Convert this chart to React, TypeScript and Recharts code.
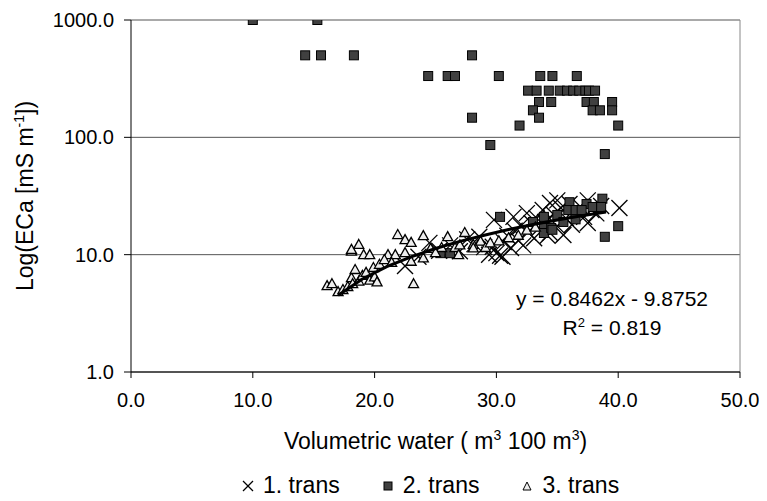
import React from 'react';
import {
  ScatterChart,
  Scatter,
  XAxis,
  YAxis,
  CartesianGrid,
  Legend,
  ReferenceLine,
  Customized,
} from 'recharts';

const FONT = '"Liberation Sans", Arial, sans-serif';
const FS_TICK = 20;
const FS_TITLE = 23;
const FS_EQ = 21;

const xTicks = [0, 10, 20, 30, 40, 50];
const yTicks = [1, 10, 100, 1000];
const seriesNames = ['1. trans', '2. trans', '3. trans'];

// 1. trans (crosses)
const trans1: [number, number][] = [
  [22.5, 8.0], [23.6, 9.6], [24.5, 12.6], [25.3, 10.8], [26.2, 12.0], [27.0, 10.7],
  [27.6, 13.5], [28.2, 12.3], [28.6, 14.2], [29.0, 11.6], [29.4, 10.0], [29.7, 11.7],
  [29.8, 19.8], [30.0, 10.3], [30.3, 9.8], [30.5, 9.6], [30.6, 12.8], [30.9, 14.5],
  [31.2, 11.4], [31.4, 21.0], [31.5, 16.0], [31.8, 13.2], [32.0, 17.5], [32.2, 12.0],
  [32.5, 22.6], [32.6, 15.5], [32.9, 18.5], [33.1, 13.8], [33.3, 20.5], [33.5, 16.8],
  [33.8, 24.0], [34.0, 19.0], [34.2, 14.5], [34.4, 27.6], [34.4, 15.3], [34.7, 22.0],
  [35.0, 29.0], [35.0, 17.5], [35.3, 25.0], [35.5, 14.7], [35.7, 20.5], [36.0, 27.0],
  [36.2, 18.0], [36.5, 23.5], [36.9, 25.6], [37.2, 21.0], [37.5, 18.6], [37.5, 29.0],
  [37.8, 24.0], [38.2, 22.5], [38.6, 26.0], [40.1, 25.0],
];

// 2. trans (squares)
const trans2: [number, number][] = [
  [10.0, 1000], [15.3, 1000], [14.3, 500], [15.6, 500], [18.3, 500], [28.0, 500],
  [24.4, 333], [26.0, 333], [26.6, 333], [30.2, 333], [33.6, 333], [34.6, 333], [36.6, 333],
  [32.6, 250], [33.3, 250], [34.3, 250], [35.2, 250], [35.8, 250], [36.3, 250],
  [36.8, 250], [37.3, 250], [37.6, 250], [38.1, 250],
  [33.5, 200], [34.5, 200], [37.4, 200], [38.0, 200], [39.5, 200],
  [33.0, 170], [37.9, 170], [38.5, 170], [39.5, 170],
  [28.0, 147], [33.5, 147], [31.9, 126], [40.0, 126], [29.5, 86], [38.9, 72],
  [30.3, 21], [33.9, 21], [35.0, 21.8], [36.0, 28], [37.4, 27], [38.7, 30],
  [35.9, 24], [36.5, 24], [37.0, 24], [37.9, 25.5], [38.6, 25.5], [33.9, 16.9],
  [33.9, 15.3], [34.5, 16.9], [36.5, 20], [40.0, 17.5], [38.9, 14.2], [34.6, 16.3],
  [25.4, 10.3], [26.2, 10.3], [33.0, 19], [35.5, 19],
];

// 3. trans (triangles)
const trans3: [number, number][] = [
  [16.1, 5.4], [16.5, 5.6], [17.0, 4.8], [17.4, 5.0], [17.8, 5.3], [18.1, 6.3],
  [18.4, 7.4], [18.2, 5.6], [18.7, 5.9], [19.0, 6.6], [19.3, 7.0], [19.6, 6.0],
  [19.9, 7.7], [20.0, 6.4], [20.2, 5.8], [20.4, 8.2], [18.1, 10.6], [18.1, 11.0],
  [18.7, 12.1], [19.1, 9.9], [19.6, 9.9], [21.1, 9.9], [21.7, 9.9], [21.9, 14.7],
  [22.5, 13.3], [23.0, 12.6], [24.0, 14.4], [22.5, 10.3], [23.0, 8.7], [24.0, 9.3],
  [23.2, 5.6], [26.0, 14.1], [27.4, 15.3], [25.5, 11.4], [26.6, 11.4], [26.9, 9.9],
  [28.1, 12.1], [28.7, 12.9], [29.1, 11.4], [28.1, 11.3], [27.0, 12.0], [29.5, 12.5],
  [24.6, 11.2], [25.0, 10.3], [20.8, 9.0], [21.4, 8.5], [30.2, 13.0], [31.0, 13.8],
  [31.8, 14.5], [32.5, 16.0], [33.2, 17.0],
];

// trend line (y = 0.8462x - 9.8752)
const trendX = [17, 19, 21, 23, 25, 27, 29, 31, 33, 35, 37, 39];
const trendY = [4.51, 6.2, 7.9, 9.59, 11.28, 12.97, 14.66, 16.36, 18.05, 19.74, 21.43, 23.13];

const toPts = (arr: [number, number][]) => arr.map(([x, y]) => ({ x, y }));
const trendPts = trendX.map((x, i) => ({ x, y: trendY[i] }));

const Cross = (p: any) => {
  const { cx, cy } = p;
  const h = 8;
  return (
    <g>
      <line x1={cx - h} y1={cy - h} x2={cx + h} y2={cy + h} stroke="#000" strokeWidth={1.3} />
      <line x1={cx - h} y1={cy + h} x2={cx + h} y2={cy - h} stroke="#000" strokeWidth={1.3} />
    </g>
  );
};

const Square = (p: any) => {
  const { cx, cy } = p;
  return <rect x={cx - 4.5} y={cy - 4.5} width={9} height={9} fill="#404040" stroke="#000" strokeWidth={1} />;
};

const Tri = (p: any) => {
  const { cx, cy } = p;
  return (
    <polygon
      points={`${cx},${cy - 5.5} ${cx + 5},${cy + 3.5} ${cx - 5},${cy + 3.5}`}
      fill="#eeeeee"
      stroke="#000"
      strokeWidth={1.3}
    />
  );
};

const NoDot = () => <g />;

const YTitle = (props: any) => {
  const vb = props.viewBox || {};
  const cx = 25;
  const cy = vb.y + vb.height / 2;
  return (
    <text
      x={cx}
      y={cy}
      transform={`rotate(-90, ${cx}, ${cy})`}
      textAnchor="middle"
      fontFamily={FONT}
      fontSize={FS_TITLE}
      fill="#000"
    >
      Log(ECa [mS m<tspan dy={-9} fontSize={14}>-1</tspan><tspan dy={9}>])</tspan>
    </text>
  );
};

const XTitle = (props: any) => {
  const vb = props.viewBox || {};
  const cx = vb.x + vb.width / 2;
  const y = vb.y + 77;
  return (
    <text x={cx} y={y} textAnchor="middle" fontFamily={FONT} fontSize={FS_TITLE} fill="#000">
      Volumetric water ( m<tspan dy={-9} fontSize={14}>3</tspan>
      <tspan dy={9}> 100 m</tspan>
      <tspan dy={-9} fontSize={14}>3</tspan>
      <tspan dy={9}>)</tspan>
    </text>
  );
};

const LegendContent = () => {
  const markers = [
    <svg width={12} height={12} key="a">
      <line x1={1} y1={1} x2={11} y2={11} stroke="#000" strokeWidth={1.2} />
      <line x1={1} y1={11} x2={11} y2={1} stroke="#000" strokeWidth={1.2} />
    </svg>,
    <svg width={12} height={12} key="b">
      <rect x={2} y={2} width={8} height={8} fill="#404040" stroke="#000" strokeWidth={1} />
    </svg>,
    <svg width={12} height={12} key="c">
      <polygon points="6,2 10,10 2,10" fill="#eeeeee" stroke="#000" strokeWidth={1} />
    </svg>,
  ];
  return (
    <div
      style={{
        display: 'flex',
        gap: 42,
        fontFamily: FONT,
        fontSize: FS_TITLE,
        color: '#000',
        whiteSpace: 'nowrap',
        lineHeight: 'normal',
      }}
    >
      {seriesNames.map((n, i) => (
        <div key={n} style={{ display: 'flex', alignItems: 'center', gap: 9 }}>
          {markers[i]}
          <span>{n}</span>
        </div>
      ))}
    </div>
  );
};

const Equation = () => (
  <g fontFamily={FONT} fontSize={FS_EQ} fill="#000">
    <text x={604} y={298} textAnchor="middle">y = 0.8462x - 9.8752</text>
    <text x={604} y={327} textAnchor="middle">
      R<tspan dy={-8} fontSize={13}>2</tspan>
      <tspan dy={8}> = 0.819</tspan>
    </text>
  </g>
);

export default function App() {
  return (
    <div style={{ width: 759, height: 493, background: '#fff' }}>
      <ScatterChart width={759} height={493} margin={{ top: 12, right: 27, bottom: 0, left: 0 }}>
        <CartesianGrid horizontal vertical={false} stroke="#555" strokeWidth={1} />
        <XAxis
          type="number"
          dataKey="x"
          domain={[0, 50]}
          ticks={xTicks}
          tickFormatter={(v: number) => v.toFixed(1)}
          stroke="#000"
          tickSize={6}
          tickMargin={15}
          height={129}
          tick={{ fontFamily: FONT, fontSize: FS_TICK, fill: '#000' }}
          label={<XTitle />}
          allowDataOverflow
        />
        <YAxis
          type="number"
          dataKey="y"
          scale="log"
          domain={[1, 1000]}
          ticks={yTicks}
          tickFormatter={(v: number) => v.toFixed(1)}
          stroke="#000"
          tickSize={7}
          tickMargin={10}
          width={123}
          tick={{ fontFamily: FONT, fontSize: FS_TICK, fill: '#000' }}
          label={<YTitle />}
          allowDataOverflow
        />
        <ReferenceLine x={50} stroke="#888" strokeWidth={1} />
        <Scatter name={seriesNames[0]} data={toPts(trans1)} shape={<Cross />} isAnimationActive={false} />
        <Scatter name={seriesNames[1]} data={toPts(trans2)} shape={<Square />} isAnimationActive={false} />
        <Scatter name={seriesNames[2]} data={toPts(trans3)} shape={<Tri />} isAnimationActive={false} />
        <Scatter
          name="trend"
          data={trendPts}
          shape={<NoDot />}
          line={{ stroke: '#000', strokeWidth: 3 }}
          lineType="joint"
          isAnimationActive={false}
          legendType="none"
        />
        <Customized component={Equation} />
        <Legend
          layout="horizontal"
          verticalAlign="middle"
          align="center"
          content={<LegendContent />}
          wrapperStyle={{ top: 464, left: 234, width: 'auto' }}
        />
      </ScatterChart>
    </div>
  );
}
